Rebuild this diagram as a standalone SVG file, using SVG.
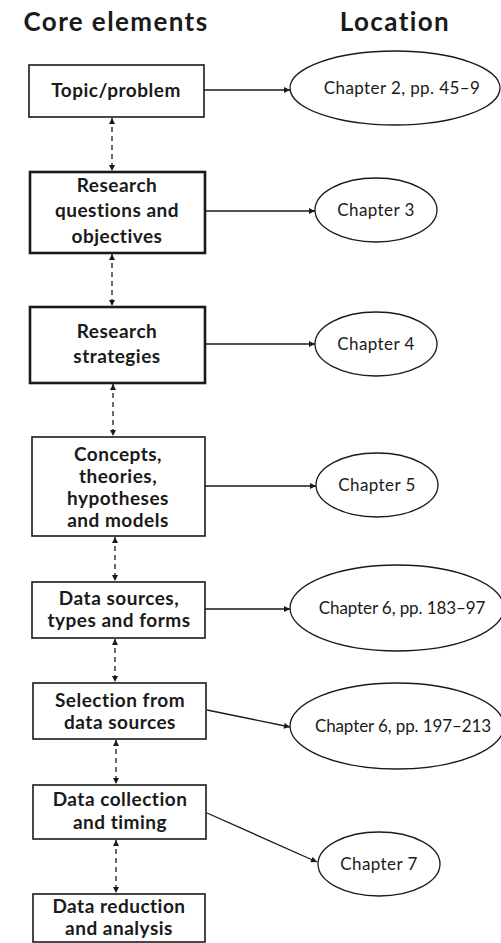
<svg xmlns="http://www.w3.org/2000/svg" width="501" height="943" viewBox="0 0 501 943">
  <style>
    .title { font-family: Lato, "Liberation Sans", sans-serif; font-weight: bold; font-size: 26px; letter-spacing: 1.4px; fill: #1a1a1a; text-anchor: middle; }
    .box { fill: #fff; stroke: #1a1a1a; stroke-width: 1.6; }
    .box.thick { stroke-width: 2.6; }
    .btxt { font-family: Lato, "Liberation Sans", sans-serif; font-weight: bold; font-size: 19px; letter-spacing: 0.5px; fill: #1a1a1a; text-anchor: middle; }
    .oval { fill: #fff; stroke: #1a1a1a; stroke-width: 1.3; }
    .otxt { font-family: Lato, "Liberation Sans", sans-serif; font-size: 17px; letter-spacing: 0.4px; fill: #1a1a1a; text-anchor: middle; }
    .otxt.tight { letter-spacing: -0.1px; }
    .link { stroke: #1a1a1a; stroke-width: 1.3; fill: none; marker-end: url(#head); }
    .dash { stroke: #1a1a1a; stroke-width: 1.3; fill: none; stroke-dasharray: 5 4; marker-start: url(#headS); marker-end: url(#head); }
  </style>
  <defs>
    <marker id="head" viewBox="0 0 10 10" refX="10" refY="5" markerWidth="10" markerHeight="6" markerUnits="userSpaceOnUse" orient="auto">
      <path d="M0,0 L10,5 L0,10 Z" fill="#1a1a1a"/>
    </marker>
    <marker id="headS" viewBox="0 0 10 10" refX="0" refY="5" markerWidth="10" markerHeight="6" markerUnits="userSpaceOnUse" orient="auto">
      <path d="M10,0 L0,5 L10,10 Z" fill="#1a1a1a"/>
    </marker>
  </defs>

  <g id="headings">
    <text class="title" x="116" y="31">Core elements</text>
    <text class="title" x="395" y="31">Location</text>
  </g>

  <g id="connectors">
    <!-- links from each element to its chapter -->
    <line class="link" x1="204" y1="90" x2="290" y2="90"/>
    <line class="link" x1="205" y1="211" x2="315" y2="211"/>
    <line class="link" x1="205" y1="344" x2="315" y2="344"/>
    <line class="link" x1="205" y1="486" x2="316" y2="486"/>
    <line class="link" x1="205" y1="609" x2="290" y2="609"/>
    <line class="link" x1="207" y1="710" x2="290" y2="727"/>
    <line class="link" x1="207" y1="813" x2="317" y2="862"/>
    <!-- dashed two-way links between consecutive elements -->
    <line class="dash" x1="112" y1="118" x2="112" y2="171"/>
    <line class="dash" x1="112" y1="254" x2="112" y2="306"/>
    <line class="dash" x1="113" y1="384" x2="113" y2="436"/>
    <line class="dash" x1="115" y1="537" x2="115" y2="581"/>
    <line class="dash" x1="115" y1="639" x2="115" y2="682"/>
    <line class="dash" x1="116" y1="740" x2="116" y2="784"/>
    <line class="dash" x1="116" y1="840" x2="116" y2="893"/>
  </g>

  <g id="topic">
    <rect class="box" x="29" y="65" width="175" height="52"/>
    <text class="btxt" x="116" y="97">Topic/problem</text>
  </g>
  <g id="questions">
    <rect class="box thick" x="30" y="172" width="175" height="81"/>
    <text class="btxt" x="117" y="192">Research</text>
    <text class="btxt" x="117" y="217">questions and</text>
    <text class="btxt" x="117" y="243">objectives</text>
  </g>
  <g id="strategies">
    <rect class="box thick" x="30" y="307" width="175" height="76"/>
    <text class="btxt" x="117" y="338">Research</text>
    <text class="btxt" x="117" y="363">strategies</text>
  </g>
  <g id="concepts">
    <rect class="box" x="32" y="437" width="173" height="99"/>
    <text class="btxt" x="118" y="461">Concepts,</text>
    <text class="btxt" x="118" y="483">theories,</text>
    <text class="btxt" x="118" y="505">hypotheses</text>
    <text class="btxt" x="118" y="527">and models</text>
  </g>
  <g id="data-sources">
    <rect class="box" x="32" y="582" width="173" height="56"/>
    <text class="btxt" x="119" y="605">Data sources,</text>
    <text class="btxt" x="119" y="627">types and forms</text>
  </g>
  <g id="selection">
    <rect class="box" x="33" y="683" width="173" height="56"/>
    <text class="btxt" x="120" y="707">Selection from</text>
    <text class="btxt" x="120" y="729">data sources</text>
  </g>
  <g id="collection">
    <rect class="box" x="33" y="785" width="173" height="54"/>
    <text class="btxt" x="120" y="806">Data collection</text>
    <text class="btxt" x="120" y="829">and timing</text>
  </g>
  <g id="reduction">
    <rect class="box" x="33" y="894" width="172" height="48"/>
    <text class="btxt" x="119" y="913">Data reduction</text>
    <text class="btxt" x="119" y="935">and analysis</text>
  </g>

  <g id="ch2">
    <ellipse class="oval" cx="395" cy="88" rx="105" ry="37"/>
    <text class="otxt" x="402" y="94">Chapter 2, pp. 45–9</text>
  </g>
  <g id="ch3">
    <ellipse class="oval" cx="376" cy="210" rx="61" ry="32"/>
    <text class="otxt" x="376" y="216">Chapter 3</text>
  </g>
  <g id="ch4">
    <ellipse class="oval" cx="376" cy="344" rx="61" ry="32"/>
    <text class="otxt" x="376" y="350">Chapter 4</text>
  </g>
  <g id="ch5">
    <ellipse class="oval" cx="377" cy="485" rx="61" ry="32"/>
    <text class="otxt" x="377" y="491">Chapter 5</text>
  </g>
  <g id="ch6a">
    <ellipse class="oval" cx="397" cy="608" rx="107" ry="43"/>
    <text class="otxt tight" x="402" y="614">Chapter 6, pp. 183–97</text>
  </g>
  <g id="ch6b">
    <ellipse class="oval" cx="397" cy="726" rx="107" ry="43"/>
    <text class="otxt tight" x="403" y="732">Chapter 6, pp. 197–213</text>
  </g>
  <g id="ch7">
    <ellipse class="oval" cx="379" cy="864" rx="61" ry="32"/>
    <text class="otxt" x="379" y="870">Chapter 7</text>
  </g>
</svg>
